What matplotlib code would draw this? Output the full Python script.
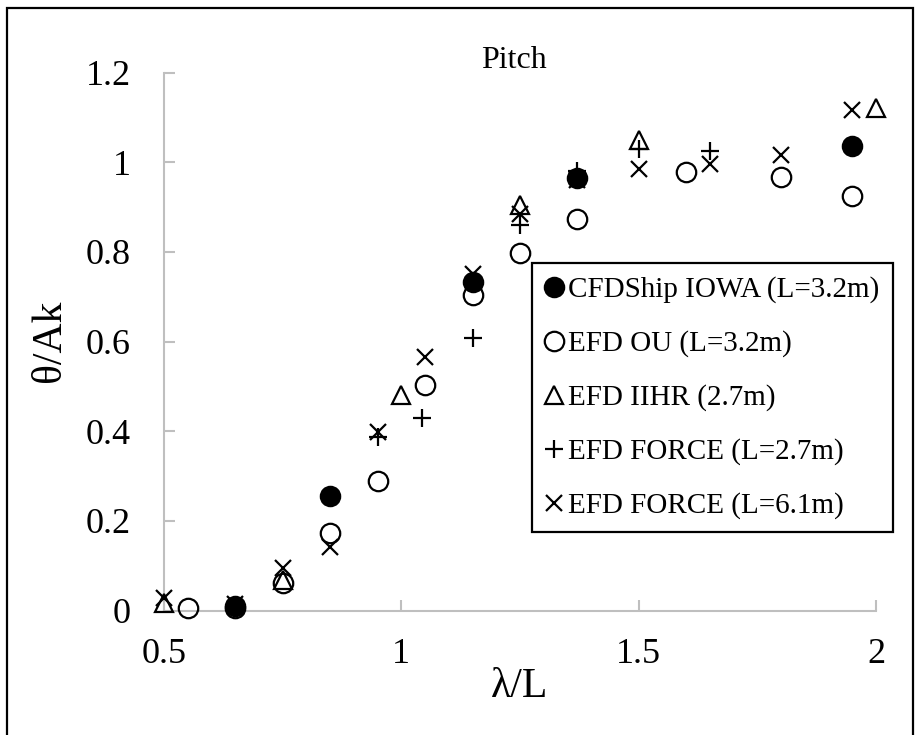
import matplotlib.pyplot as plt
from matplotlib.patches import Rectangle
from matplotlib.ticker import FuncFormatter

# data (lambda/L , theta/Ak)
cfd_x = [0.65, 0.85, 1.15, 1.37, 1.95]
cfd_y = [0.010, 0.256, 0.734, 0.965, 1.037]

ou_x = [0.55, 0.65, 0.75, 0.85, 0.95, 1.05, 1.15, 1.25, 1.37, 1.60, 1.80, 1.95]
ou_y = [0.005, 0.005, 0.061, 0.172, 0.288, 0.503, 0.705, 0.797, 0.873, 0.979, 0.967, 0.924]

iihr_x = [0.50, 0.75, 1.00, 1.25, 1.50, 2.00]
iihr_y = [0.016, 0.068, 0.481, 0.905, 1.050, 1.122]

force27_x = [0.95, 1.043, 1.15, 1.25, 1.37, 1.50, 1.65]
force27_y = [0.387, 0.429, 0.607, 0.860, 0.980, 1.030, 1.025]

force61_x = [0.50, 0.65, 0.75, 0.85, 0.95, 1.05, 1.15, 1.25, 1.37, 1.50, 1.65, 1.80, 1.95]
force61_y = [0.027, 0.015, 0.094, 0.142, 0.399, 0.565, 0.750, 0.885, 0.960, 0.985, 0.996, 1.017, 1.116]

labels = ['CFDShip IOWA (L=3.2m)', 'EFD OU (L=3.2m)', 'EFD IIHR (2.7m)',
          'EFD FORCE (L=2.7m)', 'EFD FORCE (L=6.1m)']

plt.rcParams['font.family'] = ['Liberation Serif', 'DejaVu Serif']
grey = '#BFBFBF'

W, H = 920, 735
fig = plt.figure(figsize=(W / 100, H / 100), dpi=100)
ax = fig.add_axes([164 / W, 1 - 610.5 / H, (876 - 164) / W, (610.5 - 72.7) / H])

h1, = ax.plot(cfd_x, cfd_y, 'o', ms=14, color='black', mew=1.5, zorder=6, clip_on=False)
h2, = ax.plot(ou_x, ou_y, 'o', ms=14, mfc='none', mec='black', mew=1.6, zorder=3, clip_on=False)
h3, = ax.plot(iihr_x, iihr_y, '^', ms=13, mfc='none', mec='black', mew=1.6, zorder=3, clip_on=False)
h4, = ax.plot(force27_x, force27_y, '+', ms=12.5, color='black', mew=1.6, zorder=4, clip_on=False)
h5, = ax.plot(force61_x, force61_y, 'x', ms=12, color='black', mew=1.6, zorder=5, clip_on=False)

ax.set_xlim(0.5, 2.0)
ax.set_ylim(0, 1.2)
ax.set_xticks([0.5, 1, 1.5, 2])
ax.set_yticks([0, 0.2, 0.4, 0.6, 0.8, 1.0, 1.2])
fmt = FuncFormatter(lambda v, p: f'{v:g}')
ax.xaxis.set_major_formatter(fmt)
ax.yaxis.set_major_formatter(fmt)

for s in ['top', 'right']:
    ax.spines[s].set_visible(False)
for s in ['left', 'bottom']:
    ax.spines[s].set_color(grey)
    ax.spines[s].set_linewidth(1.5)
ax.tick_params(direction='in', length=8, width=1.5, color=grey, labelsize=26)
ax.tick_params(axis='y', pad=24)
ax.tick_params(axis='x', pad=20)

fig.text(514 / W, 1 - 68 / H, 'Pitch', fontsize=23, ha='center', va='baseline')
fig.text(50 / W, 1 - 341 / H, 'θ/Ak', fontsize=30, rotation=90, ha='center', va='center')
fig.text(520 / W, 1 - 687 / H, 'λ/L', fontsize=30, ha='center', va='center')

leg = ax.legend([h1, h2, h3, h4, h5], labels, loc='upper left',
                bbox_to_anchor=(532 / W, 1 - 263 / H), bbox_transform=fig.transFigure,
                borderaxespad=0, fontsize=21, fancybox=False, framealpha=1,
                edgecolor='black', handlelength=0.6, handletextpad=0.2,
                labelspacing=0.93, borderpad=0.45, markerscale=1.0)
leg.get_frame().set_linewidth(1.6)

# outer chart border
fig.patches.append(Rectangle((7.5 / W, -0.01), (913 - 7.5) / W, 1.01 - 8 / H,
                             transform=fig.transFigure, fill=False,
                             edgecolor='black', linewidth=1.6))

fig.savefig('out.png', dpi=100)
